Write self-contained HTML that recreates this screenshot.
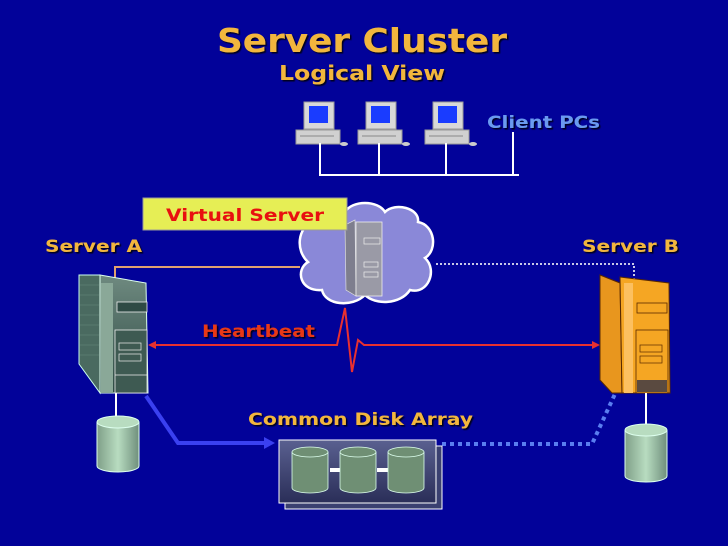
<!DOCTYPE html>
<html><head><meta charset="utf-8"><style>
html,body{margin:0;padding:0;background:#020299;}
svg{display:block}
text{font-family:"DejaVu Sans","Liberation Sans",sans-serif;font-weight:bold;}
</style></head><body>
<svg width="728" height="546" viewBox="0 0 728 546" xmlns="http://www.w3.org/2000/svg">
<defs>
<linearGradient id="gs" x1="0" x2="0" y1="0" y2="1"><stop offset="0" stop-color="#6f8a80"/><stop offset="1" stop-color="#2e4a44"/></linearGradient>
<linearGradient id="gd" x1="0" x2="1"><stop offset="0" stop-color="#7f9f88"/><stop offset=".5" stop-color="#b8dcc0"/><stop offset="1" stop-color="#6f8f7c"/></linearGradient>
<linearGradient id="ga" x1="0" x2="0" y1="0" y2="1"><stop offset="0" stop-color="#5a6090"/><stop offset="1" stop-color="#2a2e58"/></linearGradient>
<filter id="sh"><feDropShadow dx="1.5" dy="1.5" stdDeviation="0.6" flood-color="#000" flood-opacity="0.8"/></filter>
<g id="pc">
<rect x="8" y="0" width="30" height="27" fill="#d8d8d8" stroke="#999"/>
<rect x="13" y="4" width="19" height="17" fill="#1a3cff"/>
<rect x="0" y="28" width="44" height="14" fill="#d0d0d0" stroke="#999"/>
<line x1="4" y1="34" x2="38" y2="34" stroke="#888"/>
<ellipse cx="48" cy="42" rx="4" ry="2" fill="#ccc"/>
</g>
</defs>
<!-- title -->
<text x="362" y="52" text-anchor="middle" font-size="33" fill="#f2b63e" filter="url(#sh)" textLength="290" lengthAdjust="spacingAndGlyphs">Server Cluster</text>
<text x="362" y="80" text-anchor="middle" font-size="20" fill="#f2b63e" filter="url(#sh)" textLength="166" lengthAdjust="spacingAndGlyphs">Logical View</text>
<!-- clients -->
<use href="#pc" x="296" y="102"/>
<use href="#pc" x="358" y="102"/>
<use href="#pc" x="425" y="102"/>
<g stroke="#fff" stroke-width="2">
<line x1="320" y1="143" x2="320" y2="175"/>
<line x1="379" y1="143" x2="379" y2="175"/>
<line x1="446" y1="143" x2="446" y2="175"/>
<line x1="513" y1="132" x2="513" y2="175"/>
<line x1="319" y1="175" x2="519" y2="175"/>
</g>
<text x="487" y="128" font-size="17" fill="#6a9af0" filter="url(#sh)" textLength="113" lengthAdjust="spacingAndGlyphs">Client PCs</text>
<!-- cloud -->
<path d="M312,222 C310,205 335,203 345,212 C352,200 378,200 385,212 C395,202 420,208 418,222 C435,225 438,250 425,258 C438,270 428,295 410,290 C400,305 375,305 365,295 C352,308 325,305 322,290 C300,292 295,270 308,262 C295,250 298,228 312,222 Z" fill="#8a88d8" stroke="#fff" stroke-width="2.5"/>
<polygon points="345,225 355,220 356,296 346,290" fill="#7e7e8e" stroke="#ddd" stroke-width=".7"/>
<rect x="356" y="222" width="26" height="74" fill="#9a9aa6" stroke="#eee" stroke-width=".8"/>
<rect x="364" y="238" width="16" height="6" fill="none" stroke="#eee" stroke-width=".7"/>
<rect x="364" y="262" width="14" height="5" fill="none" stroke="#eee" stroke-width=".7"/>
<rect x="364" y="272" width="14" height="5" fill="none" stroke="#eee" stroke-width=".7"/>
<!-- virtual server label -->
<rect x="143" y="198" width="204" height="32" fill="#e6ee55" stroke="#999" stroke-width="1"/>
<text x="245" y="221" text-anchor="middle" font-size="17" fill="#e81010" textLength="158" lengthAdjust="spacingAndGlyphs">Virtual Server</text>
<!-- server labels -->
<text x="45" y="252" font-size="17" fill="#f2b63e" filter="url(#sh)" textLength="97" lengthAdjust="spacingAndGlyphs">Server A</text>
<text x="582" y="252" font-size="17" fill="#f2b63e" filter="url(#sh)" textLength="97" lengthAdjust="spacingAndGlyphs">Server B</text>
<!-- connectors -->
<polyline points="300,267 115,267 115,283" fill="none" stroke="#e0a070" stroke-width="2"/>
<polyline points="436,264 634,264 634,280" fill="none" stroke="#c8c8e8" stroke-width="2" stroke-dasharray="2,2"/>
<polyline points="150,345 337,345 345,308 352,372 358,340 364,345 598,345" fill="none" stroke="#e83030" stroke-width="2"/>
<polygon points="148,345 156,341 156,349" fill="#e83030"/>
<polygon points="600,345 592,341 592,349" fill="#e83030"/>
<text x="202" y="337" font-size="17" fill="#e83818" filter="url(#sh)" textLength="113" lengthAdjust="spacingAndGlyphs">Heartbeat</text>
<polyline points="146,396 178,443 268,443" fill="none" stroke="#3a40f0" stroke-width="4"/>
<polygon points="275,443 264,437 264,449" fill="#3a40f0"/>
<polyline points="442,444 592,444 620,383" fill="none" stroke="#5a7ef0" stroke-width="4" stroke-dasharray="4,4"/>
<text x="248" y="425" font-size="17" fill="#f2b63e" filter="url(#sh)" textLength="225" lengthAdjust="spacingAndGlyphs">Common Disk Array</text>
<!-- server A -->
<polygon points="79,275 100,275 100,393 79,364" fill="#4a6a60" stroke="#cfe" stroke-width="1"/>
<g stroke="#587a6e" stroke-width="1"><line x1="80" y1="285" x2="99" y2="285"/><line x1="80" y1="295" x2="99" y2="295"/><line x1="80" y1="305" x2="99" y2="305"/><line x1="80" y1="315" x2="99" y2="315"/><line x1="80" y1="325" x2="99" y2="325"/><line x1="80" y1="335" x2="99" y2="335"/><line x1="80" y1="345" x2="99" y2="345"/><line x1="80" y1="355" x2="99" y2="355"/></g>
<polygon points="100,275 146,283 148,393 100,393" fill="url(#gs)" stroke="#dfe" stroke-width="1"/>
<rect x="101" y="283" width="12" height="110" fill="#8aa898"/>
<rect x="117" y="302" width="30" height="10" fill="#2e4a44" stroke="#eee" stroke-width=".8"/>
<rect x="115" y="330" width="32" height="63" fill="#3e5a52" stroke="#eee" stroke-width=".8"/>
<g fill="none" stroke="#eee" stroke-width=".7"><rect x="119" y="343" width="22" height="7"/><rect x="119" y="354" width="22" height="7"/><line x1="115" y1="375" x2="147" y2="375"/></g>
<line x1="116" y1="393" x2="116" y2="418" stroke="#fff" stroke-width="2"/>
<!-- disk A -->
<path d="M97,422 L97,466 A21,6 0 0 0 139,466 L139,422" fill="url(#gd)" stroke="#dfe" stroke-width="1"/>
<ellipse cx="118" cy="422" rx="21" ry="6" fill="#b8dcc0" stroke="#dfe"/>
<!-- server B -->
<polygon points="600,275 620,283 622,393 612,393 600,380" fill="#e8961e" stroke="#5a2a00" stroke-width="1"/>
<polygon points="620,277 669,283 670,393 622,393" fill="#f5a623" stroke="#5a2a00" stroke-width="1"/>
<rect x="624" y="283" width="9" height="110" fill="#fcc060"/>
<rect x="637" y="303" width="30" height="10" fill="none" stroke="#5a2a00" stroke-width=".8"/>
<rect x="636" y="330" width="32" height="63" fill="#f5a623" stroke="#5a2a00" stroke-width=".8"/>
<rect x="637" y="380" width="30" height="12" fill="#5a4a40"/>
<g fill="none" stroke="#5a2a00" stroke-width=".7"><rect x="640" y="345" width="22" height="7"/><rect x="640" y="356" width="22" height="7"/></g>
<line x1="646" y1="393" x2="646" y2="424" stroke="#fff" stroke-width="2"/>
<!-- disk B -->
<path d="M625,430 L625,476 A21,6 0 0 0 667,476 L667,430" fill="url(#gd)" stroke="#dfe" stroke-width="1"/>
<ellipse cx="646" cy="430" rx="21" ry="6" fill="#b8dcc0" stroke="#dfe"/>
<!-- disk array -->
<rect x="285" y="446" width="157" height="63" fill="#3a4070" stroke="#fff" stroke-width="1"/>
<rect x="279" y="440" width="157" height="63" fill="url(#ga)" stroke="#fff" stroke-width="1"/>
<rect x="330" y="468" width="12" height="4" fill="#fff"/>
<rect x="377" y="468" width="12" height="4" fill="#fff"/>
<g fill="#6f8f74" stroke="#dfe" stroke-width=".8">
<path d="M292,452 L292,488 A18,5 0 0 0 328,488 L328,452"/><ellipse cx="310" cy="452" rx="18" ry="5"/>
<path d="M340,452 L340,488 A18,5 0 0 0 376,488 L376,452"/><ellipse cx="358" cy="452" rx="18" ry="5"/>
<path d="M388,452 L388,488 A18,5 0 0 0 424,488 L424,452"/><ellipse cx="406" cy="452" rx="18" ry="5"/>
</g>
</svg>
</body></html>
